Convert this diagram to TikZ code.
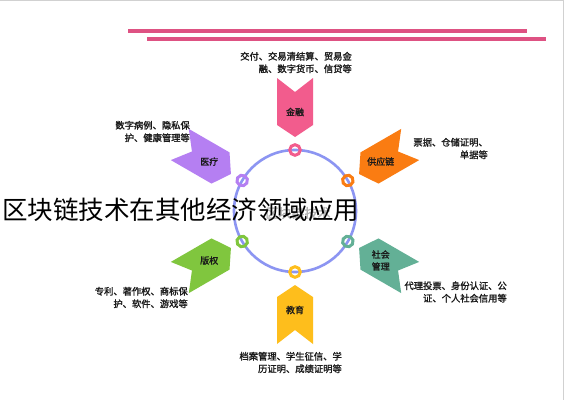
\documentclass[tikz,border=0pt]{standalone}
\usepackage{fontspec}
\newfontfamily\cjk[AutoFakeBold=1.6]{Noto Sans CJK SC}
\usepackage{xcolor}
\usetikzlibrary{calc}
\definecolor{barpink}{HTML}{DE5283}
\definecolor{fldpink}{HTML}{F25C8D}
\definecolor{fldorange}{HTML}{FA7C12}
\definecolor{fldteal}{HTML}{63B096}
\definecolor{fldyellow}{HTML}{FEBE1C}
\definecolor{fldgreen}{HTML}{80C63E}
\definecolor{fldpurple}{HTML}{B57FF2}
\definecolor{ringblue}{HTML}{8C95F2}
\definecolor{soft}{HTML}{1A1A1A}
\newcommand{\fsTitle}{\cjk\fontsize{25.5}{28}\selectfont}
\newcommand{\fsNote}{\cjk\bfseries\fontsize{9.3}{12.5}\selectfont}
\newcommand{\fsLabel}{\cjk\bfseries\fontsize{9}{12}\selectfont}

\begin{document}
\begin{tikzpicture}[x=1pt, y=1pt]
  \useasboundingbox (0,0) rectangle (565,400);
  \fill[white] (0,0) rectangle (565,400);
  \def\Cx{295}\def\Cy{189}\def\R{61}
  % frame and header bars
  \draw[black!18, line width=1.5pt] (0,399.3) -- (563.5,399.3) -- (563.5,0);
  \draw[barpink, line width=4pt] (128,369) -- (527,369);
  \draw[barpink, line width=4pt] (147,361.4) -- (546,361.4);
  % ring
  \draw[ringblue, line width=2.6pt] (\Cx,\Cy) circle (\R);
  \node[font=\cjk\bfseries\fontsize{13}{14}\selectfont, text=black!30] (core)
      at (298,187) {区块链技术};
  \newcommand{\fieldArm}[4]{%
    \begin{scope}[shift={(\Cx,\Cy)}, rotate=#1]
      \fill[#2] (74,0) -- (86,18) -- (133,18) -- (119,0) -- (133,-18) -- (86,-18) -- cycle;
      \draw[#2, line width=3pt] (\R,0) circle (5.3);
    \end{scope}
    \node[font=\fsLabel, text=soft, align=center, inner sep=0pt] (#3-lbl)
      at ($(\Cx,\Cy)+(#1:99)$) {#4};
  }
  \fieldArm{90}{fldpink}{jr}{金融}
  \fieldArm{30}{fldorange}{gyl}{供应链}
  \fieldArm{-30}{fldteal}{sh}{社会\\管理}
  \fieldArm{-90}{fldyellow}{jy}{教育}
  \fieldArm{-150}{fldgreen}{bq}{版权}
  \fieldArm{150}{fldpurple}{yl}{医疗}
  % descriptions
  \node[font=\fsNote, text=soft, align=right, anchor=east, inner sep=0pt] (jr-txt)
      at (352,337.5) {交付、交易清结算、贸易金\\融、数字货币、信贷等};
  \node[font=\fsNote, text=soft, align=right, anchor=east, inner sep=0pt] (yl-txt)
      at (190,268.5) {数字病例、隐私保\\护、健康管理等};
  \node[font=\fsNote, text=soft, align=right, anchor=east, inner sep=0pt] (gyl-txt)
      at (488,251.5) {票据、仓储证明、\\单据等};
  \node[font=\fsNote, text=soft, align=right, anchor=east, inner sep=0pt] (sh-txt)
      at (507,108) {代理投票、身份认证、公\\证、个人社会信用等};
  \node[font=\fsNote, text=soft, align=right, anchor=east, inner sep=0pt] (jy-txt)
      at (342,37.5) {档案管理、学生征信、学\\历证明、成绩证明等};
  \node[font=\fsNote, text=soft, align=right, anchor=east, inner sep=0pt] (bq-txt)
      at (188,102.5) {专利、著作权、商标保\\护、软件、游戏等};
  % title over everything
  \node[font=\fsTitle, text=black, anchor=west, inner sep=0pt] (title)
      at (2,190) {区块链技术在其他经济领域应用};
\end{tikzpicture}
\end{document}
